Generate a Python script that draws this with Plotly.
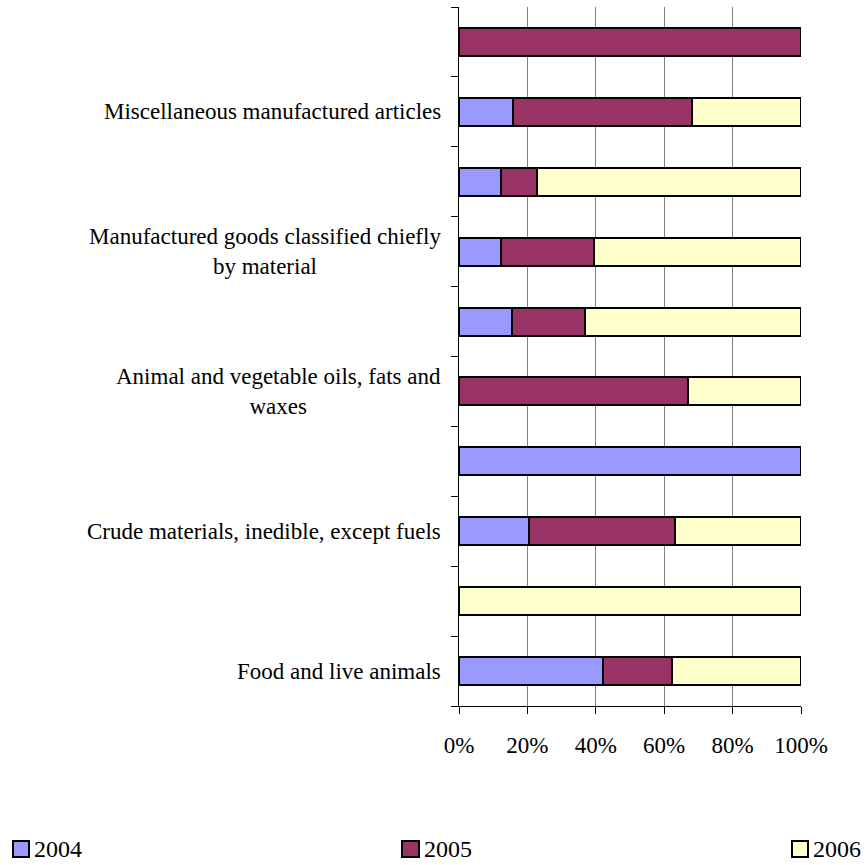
import plotly.graph_objects as go

# SITC sections, listed bottom to top
categories = [
    "Food and live animals",
    "Beverages and tobacco",
    "Crude materials, inedible, except fuels",
    "Mineral fuels, lubricants and related materials",
    "Animal and vegetable oils, fats and waxes",
    "Chemicals and related products",
    "Manufactured goods classified chiefly by material",
    "Machinery and transport equipment",
    "Miscellaneous manufactured articles",
    "Commodities and transactions not classified elsewhere",
]

# Labels written beside the axis (every other section)
axis_labels = {
    "Food and live animals": "Food and live animals",
    "Crude materials, inedible, except fuels": "Crude materials, inedible, except fuels",
    "Animal and vegetable oils, fats and waxes": "Animal and vegetable oils, fats and<br>waxes",
    "Manufactured goods classified chiefly by material": "Manufactured goods classified chiefly<br>by material",
    "Miscellaneous manufactured articles": "Miscellaneous manufactured articles",
}

# Share of each year in the section total (%)
share_2004 = [42.0, None, 20.6, 100.0, None, 15.4, 12.4, 12.2, 15.8, None]
share_2005 = [20.3, None, 42.5, None, 67.1, 21.4, 27.0, 10.6, 52.3, 100.0]
share_2006 = [37.7, 100.0, 36.9, None, 32.9, 63.2, 60.6, 77.2, 31.9, None]

years = ["2004", "2005", "2006"]
series = [share_2004, share_2005, share_2006]
colors = ["#9999FF", "#993366", "#FFFFCC"]

FONT = "'Liberation Serif', 'DejaVu Serif', serif"
W, H = 867, 865
L, R, T, B = 459, 801, 7, 706  # plot area in pixels

fig = go.Figure()
for name, vals, col in zip(years, series, colors):
    fig.add_trace(go.Bar(
        y=categories, x=vals, name=name, orientation="h",
        width=0.4,
        marker=dict(color=col, line=dict(color="black", width=2)),
        showlegend=False,
    ))

def px_x(px):
    return (px - L) / (R - L)

def px_y(py):
    return (B - py) / (B - T)

annotations = []
for cat, text in axis_labels.items():
    annotations.append(dict(
        text=text, xref="paper", yref="y", x=px_x(443), y=cat,
        xanchor="right", yanchor="middle", align="center", showarrow=False,
        font=dict(family=FONT, size=23, color="black"),
    ))

# Legend row along the bottom
legend_boxes = [(13, 29), (402, 419), (792, 808)]
shapes = []
for (x0, x1), name, col in zip(legend_boxes, years, colors):
    shapes.append(dict(
        type="rect", xref="paper", yref="paper",
        x0=px_x(x0), x1=px_x(x1), y0=px_y(857), y1=px_y(841),
        fillcolor=col, line=dict(color="black", width=2),
    ))
    annotations.append(dict(
        text=name, xref="paper", yref="paper", x=px_x(x1 + 3), y=px_y(849),
        xanchor="left", yanchor="middle", showarrow=False,
        font=dict(family=FONT, size=24, color="black"),
    ))

fig.update_layout(
    width=W, height=H,
    margin=dict(l=L, r=W - R, t=T, b=H - B, pad=0),
    paper_bgcolor="white", plot_bgcolor="white",
    barmode="stack", bargap=0.6,
    font=dict(family=FONT, size=23, color="black"),
    xaxis=dict(
        range=[0, 100], tickmode="linear", tick0=0, dtick=20,
        ticksuffix="%", showgrid=True, gridcolor="#808080", gridwidth=1,
        showline=True, linecolor="black", linewidth=1,
        ticks="outside", ticklen=7, tickcolor="black", tickwidth=1,
        ticklabelstandoff=11, zeroline=False,
        tickfont=dict(family=FONT, size=23, color="black"),
        fixedrange=True,
    ),
    yaxis=dict(
        categoryorder="array", categoryarray=categories,
        range=[-0.5, 9.5], showticklabels=False,
        showgrid=False, showline=True, linecolor="black", linewidth=1,
        ticks="outside", ticklen=7, tickcolor="black", tickwidth=1,
        tickson="boundaries", zeroline=False, fixedrange=True,
    ),
    annotations=annotations,
    shapes=shapes,
)

fig.write_html("out.html")
